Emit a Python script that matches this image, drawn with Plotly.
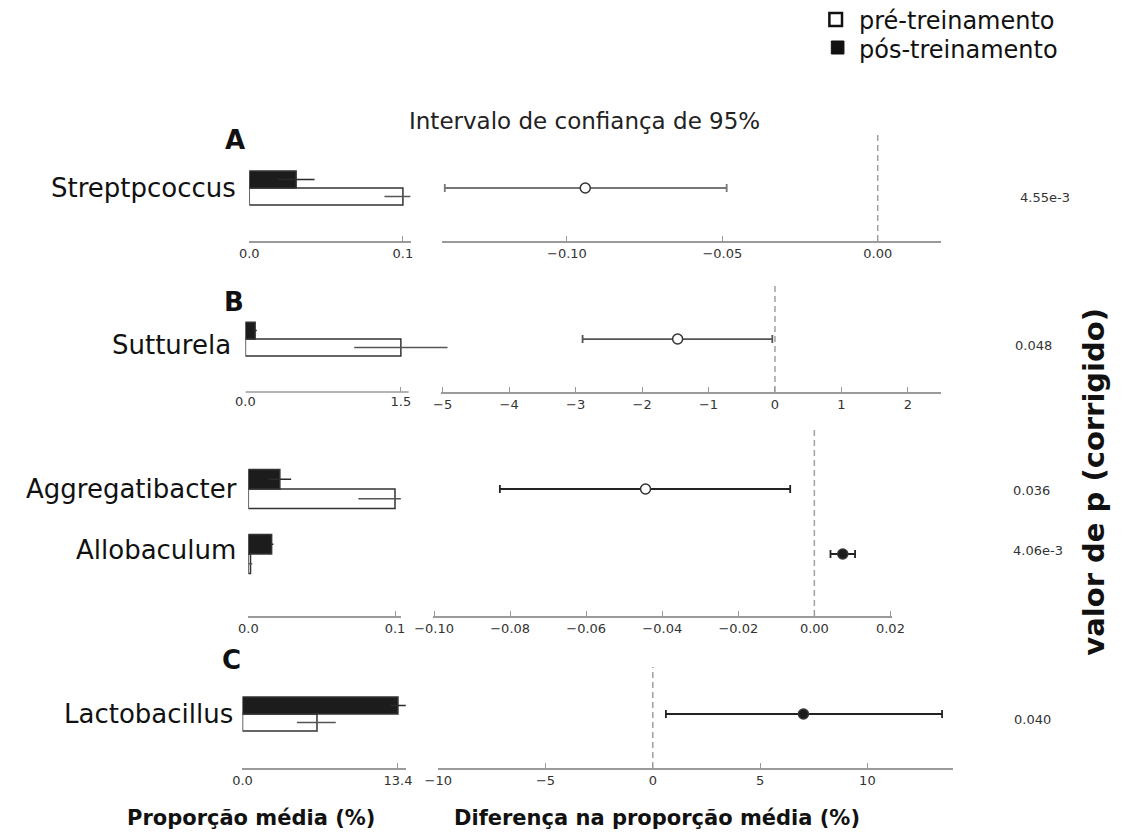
import plotly.graph_objects as go

W, H = 1130, 836
FONT = "DejaVu Sans"

# ---------------- data ----------------
genera = ["Streptpcoccus", "Sutturela", "Aggregatibacter", "Allobaculum", "Lactobacillus"]
pre_mean = [0.100, 1.50, 0.100, 0.0015, 6.42]          # pré-treinamento
pre_err_lo = [0.012, 0.45, 0.025, 0.0012, 1.73]
pre_err_hi = [0.005, 0.45, 0.025, 0.0012, 1.62]
post_mean = [0.0305, 0.094, 0.0215, 0.0159, 13.4]      # pós-treinamento
post_err = [0.012, 0.016, 0.0077, 0.0012, 0.70]
diff_mean = [-0.0941, -1.465, -0.0444, 0.00746, 7.02]
ci_low = [-0.1393, -2.895, -0.0827, 0.00424, 0.61]
ci_high = [-0.0486, -0.040, -0.00636, 0.0107, 13.48]
p_values = ["4.55e-3", "0.048", "0.036", "4.06e-3", "0.040"]

panel_members = [[0], [1], [2, 3], [4]]
panel_letters = ["A", "B", "", "C"]
left_tickvals = [[0, 0.1], [0, 1.5], [0, 0.1], [0, 13.4]]
left_ticktext = [["0.0", "0.1"], ["0.0", "1.5"], ["0.0", "0.1"], ["0.0", "13.4"]]
right_tickvals = [[-0.10, -0.05, 0.00],
                  [-5, -4, -3, -2, -1, 0, 1, 2],
                  [-0.10, -0.08, -0.06, -0.04, -0.02, 0.00, 0.02],
                  [-10, -5, 0, 5, 10]]
right_ticktext = [["\u22120.10", "\u22120.05", "0.00"],
                  ["\u22125", "\u22124", "\u22123", "\u22122", "\u22121", "0", "1", "2"],
                  ["\u22120.10", "\u22120.08", "\u22120.06", "\u22120.04", "\u22120.02", "0.00", "0.02"],
                  ["\u221210", "\u22125", "0", "5", "10"]]

# ---------------- layout (pixels) ----------------
left_dom = [(237, 403), (233, 445), (236, 393), (230, 398)]
left_range = [0.105, 1.9875, 0.104, 14.07]
left_line_end = [None, 1.575, None, None]
right_dom = [(435, 949), (434, 949), (426, 898), (431, 961)]
right_range = [(-0.1403, 0.0204), (-5.03, 2.5), (-0.1003, 0.0203), (-10.02, 13.98)]
vert_dom = [(133, 241), (283, 392), (430, 616), (667, 768)]
y_range = [(-0.815, 0.846), (-0.815, 0.862), (-1.954, 0.908), (-0.831, 0.723)]
bar_w = [0.26, 0.26, 0.30, 0.26]
ci_color = ["#777777", "#555555", "#222222", "#222222"]
letter_pos = [(222, 140), (221, 302), None, (219, 660)]
label_right = [225, 220, 226, 225, 222]
label_shift = [0, -6, 0, 4, 0]
p_left = [1028, 1023, 1021, 1021, 1022]
p_shift = [-9, -6, -1, 4, -6]


def fx(x):
    return x / W


def fy(y):
    return 1 - y / H


def ax(n):
    return "" if n == 1 else str(n)


fig = go.Figure()
shapes = []
annotations = []
layout = {}

AXCOL = "#9a9a9a"
for k, members in enumerate(panel_members):
    nl, nr = 2 * k + 1, 2 * k + 2
    ypos = [-j for j in range(len(members))]
    bw = bar_w[k]
    pre = [pre_mean[i] for i in members]
    post = [post_mean[i] for i in members]

    fig.add_trace(go.Bar(
        x=pre, y=ypos, orientation="h", width=bw, offset=-bw,
        marker=dict(color="white", line=dict(color="#333333", width=1.5)),
        error_x=dict(type="data", symmetric=False,
                     array=[pre_err_hi[i] for i in members],
                     arrayminus=[pre_err_lo[i] for i in members],
                     width=0, thickness=1.5, color="#555555"),
        xaxis="x" + ax(nl), yaxis="y" + ax(nl), showlegend=False,
        name="pré-treinamento"))
    fig.add_trace(go.Bar(
        x=post, y=ypos, orientation="h", width=bw, offset=0,
        marker=dict(color="#1c1c1c", line=dict(color="#333333", width=1.5)),
        error_x=dict(type="data", array=[post_err[i] for i in members],
                     width=0, thickness=1.5, color="#2a2a2a"),
        xaxis="x" + ax(nl), yaxis="y" + ax(nl), showlegend=False,
        name="pós-treinamento"))

    d = [diff_mean[i] for i in members]
    fig.add_trace(go.Scatter(
        x=d, y=ypos, mode="markers", cliponaxis=False,
        marker=dict(size=10, color=["white" if v < 0 else "#1c1c1c" for v in d],
                    line=dict(color="#333333", width=1.5)),
        error_x=dict(type="data", symmetric=False,
                     array=[ci_high[i] - diff_mean[i] for i in members],
                     arrayminus=[diff_mean[i] - ci_low[i] for i in members],
                     width=4, thickness=1.8, color=ci_color[k]),
        xaxis="x" + ax(nr), yaxis="y" + ax(nr), showlegend=False))

    ydom = [fy(vert_dom[k][1]), fy(vert_dom[k][0])]
    tickstyle = dict(ticks="inside", ticklen=5, tickwidth=1.2, tickcolor=AXCOL,
                     tickfont=dict(family=FONT, size=13, color="#333333"),
                     showgrid=False, zeroline=False, fixedrange=True,
                     linecolor=AXCOL, linewidth=1.5)
    layout["xaxis" + ax(nl)] = dict(
        domain=[fx(left_dom[k][0]), fx(left_dom[k][1])], range=[0, left_range[k]],
        anchor="y" + ax(nl), showline=left_line_end[k] is None,
        tickmode="array", tickvals=left_tickvals[k], ticktext=left_ticktext[k], **tickstyle)
    layout["yaxis" + ax(nl)] = dict(domain=ydom, range=list(y_range[k]),
                                    anchor="x" + ax(nl), visible=False, fixedrange=True)
    layout["xaxis" + ax(nr)] = dict(
        domain=[fx(right_dom[k][0]), fx(right_dom[k][1])], range=list(right_range[k]),
        anchor="y" + ax(nr), showline=True,
        tickmode="array", tickvals=right_tickvals[k], ticktext=right_ticktext[k], **tickstyle)
    layout["yaxis" + ax(nr)] = dict(domain=ydom, range=list(y_range[k]),
                                    anchor="x" + ax(nr), visible=False, fixedrange=True)

    if left_line_end[k] is not None:
        shapes.append(dict(type="line", xref="x" + ax(nl), yref="y" + ax(nl) + " domain",
                           x0=0, x1=left_line_end[k], y0=0, y1=0,
                           line=dict(color=AXCOL, width=1.5)))
    shapes.append(dict(type="line", xref="x" + ax(nr), yref="y" + ax(nr) + " domain",
                       x0=0, x1=0, y0=0, y1=1, layer="below",
                       line=dict(color="#a0a0a0", width=1.5, dash="6px,4px")))

    if panel_letters[k]:
        lx, ly = letter_pos[k]
        annotations.append(dict(text="<b>%s</b>" % panel_letters[k], xref="paper", yref="paper",
                                x=fx(lx), y=fy(ly), xanchor="center", yanchor="middle",
                                showarrow=False,
                                font=dict(family=FONT, size=26, color="#111111")))

    for j, i in enumerate(members):
        annotations.append(dict(text=genera[i], xref="paper", yref="y" + ax(nl),
                                x=fx(label_right[i]), y=ypos[j], yshift=label_shift[i],
                                xanchor="right", yanchor="middle", showarrow=False,
                                font=dict(family=FONT, size=26, color="#111111")))
        annotations.append(dict(text=p_values[i], xref="paper", yref="y" + ax(nr),
                                x=fx(p_left[i]), y=ypos[j], yshift=p_shift[i],
                                xanchor="left", yanchor="middle", showarrow=False,
                                font=dict(family=FONT, size=13, color="#333333")))

# titles
C = dict(xref="paper", yref="paper", xanchor="center", yanchor="middle", showarrow=False)
annotations += [
    dict(text="Intervalo de confiança de 95%", x=fx(582), y=fy(121),
         font=dict(family=FONT, size=23, color="#222222"), **C),
    dict(text="<b>Proporção média (%)</b>", x=fx(239), y=fy(818),
         font=dict(family=FONT, size=21, color="#111111"), **C),
    dict(text="<b>Diferença na proporção média (%)</b>", x=fx(657), y=fy(818),
         font=dict(family=FONT, size=21, color="#111111"), **C),
    dict(text="<b>valor de p (corrigido)</b>", x=fx(1106), y=fy(482), textangle=-90,
         font=dict(family=FONT, size=29, color="#111111"), **C),
    dict(text="pré-treinamento", xref="paper", yref="paper", x=fx(862), y=fy(21),
         xanchor="left", yanchor="middle", showarrow=False,
         font=dict(family=FONT, size=24, color="#111111")),
    dict(text="pós-treinamento", xref="paper", yref="paper", x=fx(862), y=fy(50),
         xanchor="left", yanchor="middle", showarrow=False,
         font=dict(family=FONT, size=24, color="#111111")),
]
# legend squares
shapes += [
    dict(type="rect", xref="paper", yref="paper", x0=fx(834), x1=fx(847), y0=fy(26), y1=fy(13),
         line=dict(color="#111111", width=2.5), fillcolor="white"),
    dict(type="rect", xref="paper", yref="paper", x0=fx(836), x1=fx(849), y0=fy(54), y1=fy(41),
         line=dict(color="#111111", width=1), fillcolor="#111111"),
]

fig.update_layout(width=W, height=H, margin=dict(l=0, r=0, t=0, b=0),
                  paper_bgcolor="white", plot_bgcolor="rgba(0,0,0,0)",
                  barmode="overlay", showlegend=False,
                  shapes=shapes, annotations=annotations, **layout)

fig.write_html("out.html")
